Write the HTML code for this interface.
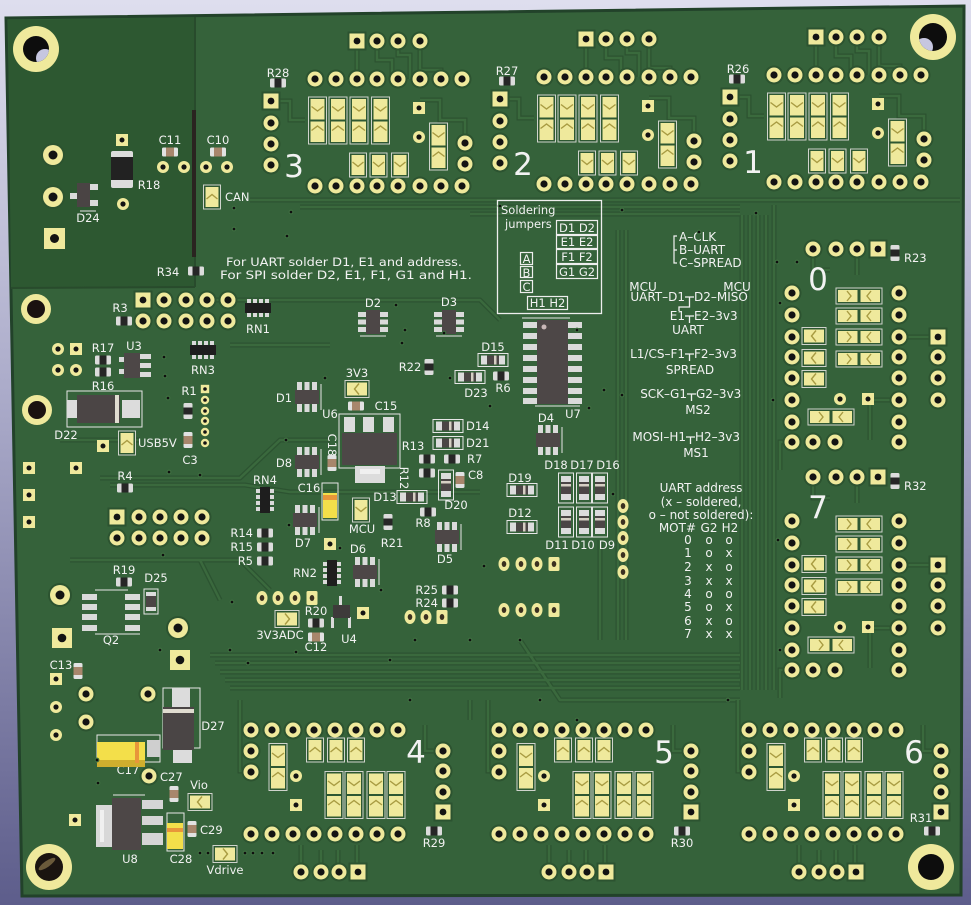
<!DOCTYPE html>
<html><head><meta charset="utf-8">
<style>
html,body{margin:0;padding:0;background:#b0b0cc}
svg{display:block}
text{font-family:"DejaVu Sans","Liberation Sans",sans-serif;fill:#f2f2f2}
.l{font-size:11.5px;text-anchor:middle}
.ls{font-size:11.5px}
.le{font-size:11.5px;text-anchor:end}
.n{font-size:31px;text-anchor:middle}
.t{font-size:12px}
.tm{font-size:12px;text-anchor:middle}
.te{font-size:12px;text-anchor:end}
</style></head><body>
<svg width="971" height="905" viewBox="0 0 971 905" xmlns="http://www.w3.org/2000/svg">
<defs>
<linearGradient id="bg" x1="0" y1="0" x2="0" y2="1">
<stop offset="0" stop-color="#dedeee"/><stop offset="0.45" stop-color="#a9a9c8"/><stop offset="1" stop-color="#5d5d8b"/>
</linearGradient>
<g id="p"><circle r="9.5" fill="#2c5330"/><circle r="7.5" fill="#efe99c"/><circle r="3.6" fill="#131313"/></g>
<g id="ps"><rect x="-9.5" y="-9.5" width="19" height="19" fill="#2c5330"/><rect x="-7.5" y="-7.5" width="15" height="15" fill="#efe99c"/><circle r="3.4" fill="#131313"/></g>
<g id="pb"><circle r="12" fill="#2c5330"/><circle r="10" fill="#efe99c"/><circle r="4.5" fill="#131313"/></g>
<g id="pbs"><rect x="-10" y="-10" width="20" height="20" fill="#efe99c"/><circle r="4.3" fill="#131313"/></g>
<g id="pm"><circle r="6" fill="#efe99c"/><circle r="2.6" fill="#131313"/></g>
<g id="pms"><rect x="-6" y="-6" width="12" height="12" fill="#efe99c"/><circle r="2.5" fill="#131313"/></g>
<g id="po"><ellipse rx="5.5" ry="7" fill="#efe99c"/><ellipse rx="2.3" ry="3" fill="#3a3020"/></g>
<g id="pos"><rect x="-5.5" y="-7" width="11" height="14" rx="1.5" fill="#efe99c"/><ellipse rx="2.3" ry="3" fill="#3a3020"/></g>
<g id="ps4"><circle r="4.2" fill="#efe99c"/><circle r="1.8" fill="#131313"/></g>
<g id="ps4s"><rect x="-4.2" y="-4.2" width="8.4" height="8.4" fill="#efe99c"/><circle r="1.8" fill="#131313"/></g>
<g id="v"><circle r="2.4" fill="#3f6f41"/><circle r="1.3" fill="#0e0e0e"/></g>
<g id="jv"><rect x="-9" y="-23.5" width="18" height="47" fill="#2e5832" stroke="#cfd3cc" stroke-width="1"/>
<rect x="-7" y="-21.5" width="14" height="20.5" fill="#efe99c"/><rect x="-7" y="1" width="14" height="20.5" fill="#efe99c"/>
<polyline points="-6,-14 0,-9.5 6,-14" fill="none" stroke="#a89b42" stroke-width="1.4"/>
<polyline points="-6,10 0,5.5 6,10" fill="none" stroke="#a89b42" stroke-width="1.4"/></g>
<g id="js"><rect x="-8.5" y="-12" width="17" height="24" fill="#2e5832" stroke="#cfd3cc"/><rect x="-6.5" y="-10" width="13" height="20" fill="#efe99c"/>
<polyline points="-5.5,-3 0,1.5 5.5,-3" fill="none" stroke="#a89b42" stroke-width="1.4"/></g>
<g id="jsu"><rect x="-8.5" y="-12" width="17" height="24" fill="#2e5832" stroke="#cfd3cc"/><rect x="-6.5" y="-10" width="13" height="20" fill="#efe99c"/>
<polyline points="-5.5,2 0,-2.5 5.5,2" fill="none" stroke="#a89b42" stroke-width="1.4"/></g>
<g id="jh"><rect x="-23" y="-8" width="46" height="16" fill="#2e5832" stroke="#cfd3cc"/>
<rect x="-21" y="-6" width="19.5" height="12" fill="#efe99c"/><rect x="1.5" y="-6" width="19.5" height="12" fill="#efe99c"/>
<polyline points="-12,-5 -8,0 -12,5" fill="none" stroke="#a89b42" stroke-width="1.4"/>
<polyline points="12,-5 8,0 12,5" fill="none" stroke="#a89b42" stroke-width="1.4"/></g>
<g id="jl"><rect x="-12" y="-8.5" width="24" height="17" fill="#2e5832" stroke="#cfd3cc"/><rect x="-10" y="-6.5" width="20" height="13" fill="#efe99c"/>
<polyline points="2,-5.5 -2.5,0 2,5.5" fill="none" stroke="#a89b42" stroke-width="1.4"/></g>
<g id="jr"><rect x="-12" y="-8.5" width="24" height="17" fill="#2e5832" stroke="#cfd3cc"/><rect x="-10" y="-6.5" width="20" height="13" fill="#efe99c"/>
<polyline points="-2,-5.5 2.5,0 -2,5.5" fill="none" stroke="#a89b42" stroke-width="1.4"/></g>
<g id="rh"><rect x="-8" y="-4.5" width="16" height="9" rx="1.5" fill="#dcdcdc"/><rect x="-3.5" y="-4.5" width="7" height="9" fill="#262626"/></g>
<g id="rv"><rect x="-4.5" y="-8" width="9" height="16" rx="1.5" fill="#dcdcdc"/><rect x="-4.5" y="-3.5" width="9" height="7" fill="#262626"/></g>
<g id="ch"><rect x="-8" y="-4.5" width="16" height="9" rx="1.5" fill="#e2e2e2"/><rect x="-4" y="-4.5" width="8" height="9" fill="#a8866c"/></g>
<g id="cv"><rect x="-4.5" y="-8" width="9" height="16" rx="1.5" fill="#e2e2e2"/><rect x="-4.5" y="-4" width="9" height="8" fill="#a8866c"/></g>
<g id="dh"><rect x="-15" y="-6.5" width="30" height="13" fill="none" stroke="#e6e6e6"/><rect x="-12" y="-4.5" width="24" height="9" fill="#dcdcdc"/><rect x="-6" y="-4.5" width="12" height="9" fill="#4b4545"/><rect x="1" y="-4.5" width="2.5" height="9" fill="#d6cfc4"/></g>
<g id="dv"><rect x="-7.5" y="-15" width="15" height="30" fill="none" stroke="#e6e6e6"/><rect x="-5" y="-12" width="10" height="24" fill="#dcdcdc"/><rect x="-5" y="-6" width="10" height="12" fill="#4b4545"/><rect x="-5" y="-4" width="10" height="2.5" fill="#d6cfc4"/></g>
<g id="s6"><rect x="-10" y="-15" width="5" height="8" fill="#dadada"/><rect x="-2.5" y="-15" width="5" height="8" fill="#dadada"/><rect x="5" y="-15" width="5" height="8" fill="#dadada"/>
<rect x="-10" y="7" width="5" height="8" fill="#dadada"/><rect x="-2.5" y="7" width="5" height="8" fill="#dadada"/><rect x="5" y="7" width="5" height="8" fill="#dadada"/>
<rect x="-12" y="-7" width="24" height="14" fill="#4d4747"/><line x1="14" y1="-13" x2="14" y2="13" stroke="#e6e6e6"/></g>
<g id="s6r"><rect x="-15" y="-10" width="8" height="5" fill="#dadada"/><rect x="-15" y="-2.5" width="8" height="5" fill="#dadada"/><rect x="-15" y="5" width="8" height="5" fill="#dadada"/>
<rect x="7" y="-10" width="8" height="5" fill="#dadada"/><rect x="7" y="-2.5" width="8" height="5" fill="#dadada"/><rect x="7" y="5" width="8" height="5" fill="#dadada"/>
<rect x="-7" y="-12" width="14" height="24" fill="#4d4747"/><line x1="-13" y1="14" x2="13" y2="14" stroke="#e6e6e6"/></g>
<g id="rn"><rect x="-11" y="-9" width="4" height="5" fill="#dadada"/><rect x="-5" y="-9" width="4" height="5" fill="#dadada"/><rect x="1" y="-9" width="4" height="5" fill="#dadada"/><rect x="7" y="-9" width="4" height="5" fill="#dadada"/>
<rect x="-11" y="4" width="4" height="5" fill="#dadada"/><rect x="-5" y="4" width="4" height="5" fill="#dadada"/><rect x="1" y="4" width="4" height="5" fill="#dadada"/><rect x="7" y="4" width="4" height="5" fill="#dadada"/>
<rect x="-13" y="-5" width="26" height="10" fill="#1e1e1e"/></g>
<g id="rnv"><rect x="-9" y="-11" width="5" height="4" fill="#dadada"/><rect x="-9" y="-5" width="5" height="4" fill="#dadada"/><rect x="-9" y="1" width="5" height="4" fill="#dadada"/><rect x="-9" y="7" width="5" height="4" fill="#dadada"/>
<rect x="4" y="-11" width="5" height="4" fill="#dadada"/><rect x="4" y="-5" width="5" height="4" fill="#dadada"/><rect x="4" y="1" width="5" height="4" fill="#dadada"/><rect x="4" y="7" width="5" height="4" fill="#dadada"/>
<rect x="-5" y="-13" width="10" height="26" fill="#1e1e1e"/></g>

<g id="tb">
<g fill="none" stroke="#2c5230" stroke-width="5"><path d="M357 41V79M377 41V60H392V79M398 41V55H410V79M420 41V70H441V79"/><path d="M271 101H290V120H305M465 143V120H440V100H420"/></g>
<g fill="none" stroke="#3a6a3d" stroke-width="2.5"><path d="M357 41V79M377 41V60H392V79M398 41V55H410V79M420 41V70H441V79"/><path d="M271 101H290V120H305M465 143V120H440V100H420"/></g>
<use href="#ps" x="357" y="41"/><use href="#p" x="377" y="41"/><use href="#p" x="398" y="41"/><use href="#p" x="420" y="41"/>
<use href="#p" x="315" y="79"/><use href="#p" x="336" y="79"/><use href="#p" x="357" y="79"/><use href="#p" x="377" y="79"/><use href="#p" x="398" y="79"/><use href="#p" x="420" y="79"/><use href="#p" x="441" y="79"/><use href="#p" x="462" y="79"/>
<use href="#p" x="315" y="186"/><use href="#p" x="336" y="186"/><use href="#p" x="357" y="186"/><use href="#p" x="377" y="186"/><use href="#p" x="398" y="186"/><use href="#p" x="420" y="186"/><use href="#p" x="441" y="186"/><use href="#p" x="462" y="186"/>
<use href="#ps" x="271" y="101"/><use href="#p" x="271" y="123"/><use href="#p" x="271" y="144"/><use href="#p" x="271" y="165"/>
<use href="#p" x="465" y="143"/><use href="#p" x="465" y="164"/>
<use href="#pms" x="419" y="108"/><use href="#pm" x="419" y="137"/>
<use href="#jv" x="317.5" y="120.5"/><use href="#jv" x="338" y="120.5"/><use href="#jv" x="359" y="120.5"/><use href="#jv" x="380.5" y="120.5"/>
<use href="#js" x="358" y="165"/><use href="#js" x="378.5" y="165"/><use href="#js" x="400" y="165"/>
<use href="#jv" x="438.5" y="146.5"/>
<use href="#rh" x="278" y="83"/>
</g>

<g id="rb">
<g fill="none" stroke="#2c5230" stroke-width="5"><path d="M813 249V270H830M857 249V275M899 337H938M899 400H870V440M792 442H780V470"/></g>
<g fill="none" stroke="#3a6a3d" stroke-width="2.5"><path d="M813 249V270H830M857 249V275M899 337H938M899 400H870V440M792 442H780V470"/></g>
<use href="#p" x="813" y="249"/><use href="#p" x="836" y="249"/><use href="#p" x="857" y="249"/><use href="#ps" x="878" y="249"/>
<use href="#rv" x="895" y="253"/>
<use href="#p" x="792" y="293"/><use href="#p" x="792" y="315"/><use href="#p" x="792" y="337"/><use href="#p" x="792" y="357"/><use href="#p" x="792" y="378"/><use href="#p" x="792" y="400"/><use href="#p" x="792" y="422"/><use href="#p" x="792" y="442"/>
<use href="#p" x="813" y="442"/><use href="#p" x="835" y="442"/>
<use href="#p" x="899" y="293"/><use href="#p" x="899" y="315"/><use href="#p" x="899" y="337"/><use href="#p" x="899" y="357"/><use href="#p" x="899" y="378"/><use href="#p" x="899" y="400"/><use href="#p" x="899" y="422"/><use href="#p" x="899" y="442"/>
<use href="#ps" x="938" y="337"/><use href="#p" x="938" y="357"/><use href="#p" x="938" y="378"/><use href="#p" x="938" y="400"/>
<use href="#jh" x="859" y="296"/><use href="#jh" x="859" y="316"/><use href="#jh" x="859" y="337"/><use href="#jh" x="859" y="359"/>
<use href="#jl" x="814" y="336"/><use href="#jl" x="814" y="358"/><use href="#jl" x="814" y="379"/>
<use href="#pm" x="840" y="399"/><use href="#pms" x="868" y="399"/>
<use href="#jh" x="831" y="417"/>
</g>

<g id="bb">
<g fill="none" stroke="#2c5230" stroke-width="5"><path d="M301 872V845M321 872V850M338 872V850M357 872V845M443 751H425V725M251 771H240V700"/></g>
<g fill="none" stroke="#3a6a3d" stroke-width="2.5"><path d="M301 872V845M321 872V850M338 872V850M357 872V845M443 751H425V725M251 771H240V700"/></g>
<use href="#p" x="251" y="730"/><use href="#p" x="272" y="730"/><use href="#p" x="293" y="730"/><use href="#p" x="314" y="730"/><use href="#p" x="335" y="730"/><use href="#p" x="356" y="730"/><use href="#p" x="377" y="730"/><use href="#p" x="398" y="730"/>
<use href="#p" x="251" y="751"/><use href="#p" x="251" y="772"/>
<use href="#jv" x="278" y="767"/>
<use href="#pm" x="296" y="776"/>
<use href="#jsu" x="315" y="750"/><use href="#jsu" x="336" y="750"/><use href="#jsu" x="356" y="750"/>
<use href="#jv" x="334" y="795"/><use href="#jv" x="354" y="795"/><use href="#jv" x="376" y="795"/><use href="#jv" x="396" y="795"/>
<use href="#pms" x="296" y="805"/>
<use href="#p" x="443" y="751"/><use href="#p" x="443" y="771"/><use href="#p" x="443" y="792"/><use href="#ps" x="443" y="812"/>
<use href="#p" x="251" y="834"/><use href="#p" x="272" y="834"/><use href="#p" x="293" y="834"/><use href="#p" x="314" y="834"/><use href="#p" x="335" y="834"/><use href="#p" x="356" y="834"/><use href="#p" x="377" y="834"/><use href="#p" x="398" y="834"/>
<use href="#rh" x="434" y="831"/>
<use href="#p" x="301" y="872"/><use href="#p" x="321" y="872"/><use href="#p" x="339" y="872"/><use href="#ps" x="358" y="872"/>
</g>
<clipPath id="h1"><circle cx="36" cy="49" r="13"/></clipPath>
<clipPath id="h2"><circle cx="933" cy="37" r="14"/></clipPath>
</defs>

<rect width="971" height="905" fill="url(#bg)"/>
<polygon points="6,18 964,6 961,895 22,896" fill="#35623a" stroke="#22422a" stroke-width="3"/>
<polygon points="8,20 195,17 195,287 11,288" fill="#2d5831"/>
<line x1="11" y1="288" x2="195" y2="287" stroke="#284b2c" stroke-width="2"/>
<line x1="195" y1="17" x2="195" y2="287" stroke="#284b2c" stroke-width="2"/>

<g fill="none" stroke="#2c5331" stroke-width="5" stroke-linejoin="round">
<path d="M742 215V690M750 215V690M758 215V690M766 215V690M774 205V690"/>
<path d="M250 200H960M300 207H740M470 214H740"/>
<path d="M210 655H740M215 663H740M220 672H740M225 680H740M230 688H740"/>
<path d="M100 478H240L280 440H330M110 485H245L290 492H480"/>
<path d="M618 230V640M626 230V640"/>
<path d="M215 300H480L500 320M230 345H330M150 560H240L270 590"/>
<path d="M470 700V720M520 640L560 700H740M600 540V640"/>
<path d="M60 440H140M70 560H200L220 600"/>
</g>
<g fill="none" stroke="#3a693d" stroke-width="2.5" stroke-linejoin="round">
<path d="M742 215V690M750 215V690M758 215V690M766 215V690M774 205V690"/>
<path d="M250 200H960M300 207H740M470 214H740"/>
<path d="M210 655H740M215 663H740M220 672H740M225 680H740M230 688H740"/>
<path d="M100 478H240L280 440H330M110 485H245L290 492H480"/>
<path d="M618 230V640M626 230V640"/>
<path d="M215 300H480L500 320M230 345H330M150 560H240L270 590"/>
<path d="M470 700V720M520 640L560 700H740M600 540V640"/>
<path d="M60 440H140M70 560H200L220 600"/>
</g>

<circle cx="36" cy="49" r="23" fill="#efe99c"/><circle cx="36" cy="49" r="13" fill="#0d0d0d"/><circle cx="45" cy="58" r="9" fill="#c6c6e0" clip-path="url(#h1)"/>
<circle cx="933" cy="37" r="23" fill="#efe99c"/><circle cx="933" cy="37" r="14" fill="#0d0d0d"/><circle cx="924" cy="47" r="9" fill="#c6c6e0" clip-path="url(#h2)"/>
<circle cx="49" cy="867" r="23" fill="#efe99c"/><circle cx="49" cy="867" r="14" fill="#1a1410"/><ellipse cx="47" cy="864" rx="10" ry="3" fill="#6a5a3a" transform="rotate(-35 47 864)"/>
<circle cx="931" cy="867" r="23" fill="#efe99c"/><circle cx="931" cy="867" r="13" fill="#0d0d0d"/>
<circle cx="36" cy="309" r="15" fill="#efe99c"/><circle cx="36" cy="309" r="9" fill="#1a1210"/>
<circle cx="37" cy="410" r="15" fill="#efe99c"/><circle cx="37" cy="410" r="9" fill="#1a1210"/>

<use href="#tb"/><use href="#tb" x="229" y="-2"/><use href="#tb" x="459" y="-4"/>
<use href="#rb"/><use href="#rb" y="228"/>
<use href="#bb"/><use href="#bb" x="248"/><use href="#bb" x="498"/>

<text class="n" x="294" y="177">3</text><text class="n" x="523" y="175">2</text><text class="n" x="753" y="173">1</text>
<text class="l" x="278" y="77">R28</text><text class="l" x="507" y="75">R27</text><text class="l" x="738" y="73">R26</text>
<text class="n" x="818" y="290">0</text><text class="n" x="818" y="518">7</text>
<text class="ls" x="904" y="262">R23</text><text class="ls" x="904" y="490">R32</text>
<text class="n" x="416" y="763">4</text><text class="n" x="664" y="763">5</text><text class="n" x="914" y="763">6</text>
<text class="l" x="434" y="847">R29</text><text class="l" x="682" y="847">R30</text><text class="l" x="921" y="822">R31</text>

<use href="#pb" x="53" y="155"/><use href="#pb" x="53" y="197"/>
<rect x="44" y="228" width="21" height="21" fill="#efe99c"/><circle cx="54.5" cy="238.5" r="4.5" fill="#131313"/>
<rect x="77" y="183" width="13" height="24" fill="#4a4444"/><rect x="90" y="184" width="8" height="6" fill="#dadada"/><rect x="90" y="200" width="8" height="6" fill="#dadada"/><rect x="70" y="193" width="7" height="6" fill="#dadada"/>
<line x1="80" y1="211" x2="96" y2="211" stroke="#e6e6e6"/>
<text class="l" x="88" y="222">D24</text>
<use href="#pms" x="122" y="140"/>
<rect x="111" y="151" width="22" height="37" rx="2" fill="#dcdcdc"/><rect x="111" y="157" width="22" height="23" fill="#222"/>
<text class="l" x="149" y="189">R18</text>
<use href="#pm" x="123" y="204"/>
<use href="#ch" x="170" y="152"/><text class="l" x="170" y="144">C11</text>
<use href="#ch" x="218" y="152"/><text class="l" x="218" y="144">C10</text>
<use href="#pm" x="163" y="167"/><use href="#pm" x="184" y="167"/><use href="#pm" x="206" y="167"/><use href="#pm" x="227" y="167"/>
<rect x="192" y="110" width="4" height="147" fill="#2a2420"/>
<use href="#jsu" x="212" y="197"/>
<text class="ls" x="225" y="201">CAN</text>
<use href="#rh" x="196" y="271"/><text class="l" x="168" y="276">R34</text>
<text class="ls" x="226" y="266" textLength="236" lengthAdjust="spacingAndGlyphs">For UART solder D1, E1 and address.</text>
<text class="ls" x="220" y="279" textLength="252" lengthAdjust="spacingAndGlyphs">For SPI solder D2, E1, F1, G1 and H1.</text>

<use href="#ps" x="143" y="300"/><use href="#p" x="164" y="300"/><use href="#p" x="186" y="300"/><use href="#p" x="207" y="300"/><use href="#p" x="228" y="300"/>
<use href="#p" x="143" y="321"/><use href="#p" x="164" y="321"/><use href="#p" x="186" y="321"/><use href="#p" x="207" y="321"/><use href="#p" x="228" y="321"/>
<use href="#rh" x="124" y="321"/><text class="l" x="120" y="312">R3</text>
<use href="#rn" x="258" y="308"/><text class="l" x="258" y="333">RN1</text>
<use href="#pm" x="58" y="349"/><use href="#pms" x="76" y="349"/><use href="#pm" x="58" y="370"/><use href="#pm" x="76" y="370"/>
<use href="#rh" x="103" y="360"/><use href="#rh" x="103" y="372"/><text class="l" x="103" y="352">R17</text>
<rect x="140" y="354" width="11" height="5" fill="#dadada"/><rect x="140" y="363" width="11" height="5" fill="#dadada"/><rect x="140" y="372" width="11" height="5" fill="#dadada"/>
<rect x="119" y="357" width="6" height="5" fill="#dadada"/><rect x="119" y="369" width="6" height="5" fill="#dadada"/>
<rect x="124" y="353" width="16" height="25" fill="#4d4747"/>
<text class="l" x="134" y="350">U3</text>
<use href="#rn" x="203" y="350"/><text class="l" x="203" y="374">RN3</text>
<text class="l" x="103" y="390">R16</text>
<rect x="67" y="391" width="75" height="36" fill="none" stroke="#e6e6e6"/>
<rect x="67" y="400" width="12" height="18" fill="#dcdcdc"/><rect x="122" y="400" width="18" height="18" fill="#dcdcdc"/>
<rect x="77" y="395" width="43" height="28" fill="#4b4545"/><rect x="115" y="395" width="4" height="28" fill="#e0dcd0"/>
<text class="l" x="66" y="439">D22</text>
<use href="#rv" x="188" y="411"/><text class="l" x="189" y="395">R1</text>
<use href="#cv" x="188" y="440"/><text class="l" x="190" y="464">C3</text>
<use href="#ps4s" x="205" y="389"/><use href="#ps4" x="205" y="400"/><use href="#ps4" x="205" y="411"/><use href="#ps4" x="205" y="421"/><use href="#ps4" x="205" y="432"/><use href="#ps4" x="205" y="443"/>
<use href="#jsu" x="127" y="443"/><text class="ls" x="138" y="447">USB5V</text>
<use href="#pms" x="103" y="446"/>
<use href="#pms" x="29" y="468"/><use href="#pms" x="29" y="495"/><use href="#pms" x="29" y="522"/><use href="#pms" x="76" y="468"/>
<use href="#rh" x="125" y="488"/><text class="l" x="125" y="480">R4</text>
<use href="#ps" x="117" y="517"/><use href="#p" x="139" y="517"/><use href="#p" x="160" y="517"/><use href="#p" x="181" y="517"/><use href="#p" x="202" y="517"/>
<use href="#p" x="117" y="538"/><use href="#p" x="139" y="538"/><use href="#p" x="160" y="538"/><use href="#p" x="181" y="538"/><use href="#p" x="202" y="538"/>
<use href="#rnv" x="265" y="500"/><text class="l" x="265" y="484">RN4</text>
<use href="#rh" x="265" y="533"/><use href="#rh" x="265" y="547"/><use href="#rh" x="265" y="561"/>
<text class="le" x="253" y="537">R14</text><text class="le" x="253" y="551">R15</text><text class="le" x="253" y="565">R5</text>
<use href="#rh" x="124" y="582"/><text class="l" x="124" y="574">R19</text>
<rect x="144" y="589" width="14" height="25" fill="none" stroke="#e6e6e6"/><rect x="146" y="592" width="10" height="19" fill="#dcdcdc"/><rect x="146" y="596" width="10" height="11" fill="#4b4545"/>
<text class="l" x="156" y="582">D25</text>
<use href="#pb" x="60" y="595"/>
<rect x="82" y="594" width="15" height="6" fill="#dadada"/><rect x="82" y="604" width="15" height="6" fill="#dadada"/><rect x="82" y="614" width="15" height="6" fill="#dadada"/><rect x="82" y="625" width="15" height="6" fill="#dadada"/>
<rect x="125" y="594" width="15" height="6" fill="#dadada"/><rect x="125" y="604" width="15" height="6" fill="#dadada"/><rect x="125" y="614" width="15" height="6" fill="#dadada"/><rect x="125" y="625" width="15" height="6" fill="#dadada"/>
<line x1="95" y1="590" x2="128" y2="590" stroke="#e6e6e6"/><line x1="95" y1="634" x2="140" y2="634" stroke="#e6e6e6"/>
<text class="l" x="111" y="644">Q2</text>
<use href="#pbs" x="62" y="638"/>
<use href="#pb" x="178" y="628"/><use href="#pbs" x="180" y="660"/>

<text class="l" x="61" y="669">C13</text><use href="#cv" x="78" y="671"/>
<use href="#pms" x="56" y="679"/><use href="#pm" x="56" y="707"/><use href="#pm" x="56" y="735"/>
<use href="#p" x="86" y="694"/><use href="#p" x="86" y="722"/><use href="#p" x="148" y="694"/>
<rect x="163" y="688" width="37" height="60" fill="none" stroke="#e6e6e6"/>
<rect x="172" y="688" width="18" height="19" fill="#dcdcdc"/><rect x="173" y="750" width="19" height="13" fill="#dcdcdc"/>
<rect x="163" y="707" width="31" height="43" fill="#4a4545"/><rect x="163" y="709" width="31" height="4" fill="#e0dcd0"/>
<text class="l" x="213" y="730">D27</text>
<text class="l" x="128" y="774">C17</text>
<rect x="97" y="735" width="63" height="27" fill="none" stroke="#e6e6e6"/>
<rect x="147" y="740" width="13" height="17" fill="#cfcfcf"/>
<rect x="97" y="742" width="48" height="25" fill="#f3df4a"/><rect x="97" y="760" width="48" height="7" fill="#cfae2e"/><rect x="135" y="742" width="4" height="21" fill="#e8963a"/>
<use href="#p" x="149" y="776"/><text class="ls" x="160" y="781">C27</text>
<use href="#cv" x="174" y="794"/>
<line x1="113" y1="795" x2="145" y2="795" stroke="#e6e6e6"/>
<rect x="96" y="805" width="16" height="42" fill="#d8d8d8"/><rect x="100" y="810" width="4" height="32" fill="#f0f0f0"/>
<rect x="142" y="800" width="21" height="9" fill="#d5d5d5"/><rect x="142" y="816" width="21" height="9" fill="#d5d5d5"/><rect x="142" y="833" width="21" height="12" fill="#d5d5d5"/>
<rect x="112" y="798" width="29" height="52" fill="#4d4747"/>
<text class="l" x="130" y="863">U8</text>
<use href="#pms" x="75" y="820"/>
<rect x="167" y="813" width="17" height="38" fill="none" stroke="#e6e6e6"/>
<rect x="167" y="823" width="16" height="26" fill="#f3df4a"/><rect x="167" y="828" width="16" height="4" fill="#e8963a"/>
<text class="l" x="181" y="863">C28</text>
<use href="#cv" x="192" y="829"/><text class="ls" x="200" y="834">C29</text>
<use href="#jl" x="200" y="802"/><text class="l" x="199" y="789">Vio</text>
<use href="#jr" x="225" y="854"/><text class="l" x="225" y="874">Vdrive</text>
<use href="#v" x="200" y="853"/><use href="#v" x="208" y="853"/><use href="#v" x="245" y="853"/><use href="#v" x="253" y="853"/><use href="#v" x="262" y="853"/><use href="#v" x="273" y="853"/>

<use href="#s6r" x="373" y="322"/><text class="l" x="373" y="307">D2</text>
<use href="#s6r" x="449" y="322"/><text class="l" x="449" y="306">D3</text>
<use href="#dh" x="493" y="360"/><text class="l" x="493" y="351">D15</text>
<use href="#dh" x="470" y="377"/><text class="l" x="476" y="397">D23</text>
<use href="#rh" x="501" y="376"/><text class="l" x="503" y="392">R6</text>
<use href="#rv" x="429" y="367"/><text class="l" x="410" y="371">R22</text>
<use href="#s6" x="307" y="397"/><text class="l" x="284" y="402">D1</text>
<use href="#jl" x="357" y="389"/><text class="l" x="357" y="377">3V3</text>
<use href="#ch" x="356" y="406"/><text class="l" x="386" y="410">C15</text>
<rect x="339" y="414" width="61" height="54" fill="none" stroke="#e6e6e6"/>
<rect x="344" y="417" width="11" height="15" fill="#dcdcdc"/><rect x="363" y="417" width="11" height="15" fill="#dcdcdc"/><rect x="383" y="417" width="11" height="15" fill="#dcdcdc"/>
<rect x="342" y="433" width="55" height="32" fill="#4d4747"/>
<rect x="355" y="466" width="30" height="17" fill="#dcdcdc"/><rect x="360" y="469" width="20" height="5" fill="#f0f0f0"/>
<text class="l" x="330" y="418">U6</text>
<text class="l" transform="translate(328 445) rotate(90)">C18</text>
<use href="#cv" x="332" y="463"/>
<text class="l" x="413" y="450">R13</text>
<use href="#rh" x="427" y="459"/><use href="#rh" x="452" y="459"/><text class="ls" x="467" y="463">R7</text>
<use href="#dh" x="448" y="426"/><text class="ls" x="466" y="430">D14</text>
<use href="#dh" x="448" y="443"/><text class="ls" x="466" y="447">D21</text>
<use href="#rh" x="427" y="473"/><text class="l" transform="translate(400 478) rotate(90)">R12</text>
<use href="#cv" x="460" y="480"/><text class="ls" x="468" y="479">C8</text>
<use href="#dv" x="446" y="485"/><text class="l" x="456" y="509">D20</text>
<use href="#dh" x="412" y="497"/><text class="l" x="385" y="501">D13</text>
<use href="#rh" x="428" y="512"/><text class="l" x="423" y="527">R8</text>
<use href="#s6" x="447" y="537"/><text class="l" x="445" y="563">D5</text>
<use href="#s6" x="307" y="462"/><text class="l" x="284" y="467">D8</text>
<rect x="322" y="483" width="16" height="37" fill="none" stroke="#e6e6e6"/>
<rect x="323" y="493" width="14" height="25" fill="#f3df4a"/><rect x="323" y="495" width="14" height="5" fill="#e8963a"/>
<text class="l" x="309" y="492">C16</text>
<use href="#js" x="361" y="510"/><text class="l" x="362" y="533">MCU</text>
<use href="#rv" x="388" y="522"/><text class="l" x="392" y="547">R21</text>
<use href="#s6" x="305" y="520"/><text class="l" x="303" y="547">D7</text>
<use href="#pms" x="330" y="544"/>
<use href="#s6" x="365" y="572"/><text class="l" x="358" y="553">D6</text>
<use href="#rnv" x="332" y="573"/><text class="l" x="305" y="577">RN2</text>
<use href="#po" x="262" y="598"/><use href="#po" x="278" y="598"/><use href="#po" x="295" y="598"/><use href="#pos" x="312" y="598"/>
<use href="#rh" x="316" y="623"/><text class="l" x="316" y="615">R20</text>
<use href="#jr" x="287" y="619"/><text class="l" x="280" y="639">3V3ADC</text>
<use href="#ch" x="316" y="637"/><text class="l" x="316" y="651">C12</text>
<rect x="339" y="596" width="3" height="10" fill="#dadada"/><rect x="331" y="617" width="3" height="11" fill="#dadada"/><rect x="348" y="617" width="3" height="11" fill="#dadada"/>
<rect x="333" y="605" width="17" height="13" fill="#3e3a3a"/>
<text class="l" x="349" y="643">U4</text>
<use href="#pms" x="363" y="613"/>
<use href="#rh" x="450" y="590"/><use href="#rh" x="450" y="603"/>
<text class="le" x="438" y="594">R25</text><text class="le" x="438" y="607">R24</text>
<use href="#po" x="410" y="617"/><use href="#po" x="426" y="617"/><use href="#pos" x="442" y="617"/>

<rect x="497.5" y="200.5" width="104" height="113" fill="none" stroke="#eeeeee" stroke-width="1.3"/>
<text class="ls" x="501" y="214">Soldering</text>
<text class="ls" x="505" y="228">jumpers</text>
<g fill="none" stroke="#eeeeee" stroke-width="1.2">
<rect x="556.5" y="220.5" width="41" height="14"/><rect x="556.5" y="235.5" width="41" height="13"/><rect x="556.5" y="249.5" width="41" height="14"/><rect x="556.5" y="264.5" width="41" height="14"/>
<rect x="520.5" y="252.5" width="12" height="12"/><rect x="520.5" y="266.5" width="12" height="11"/><rect x="520.5" y="280.5" width="12" height="12"/>
<rect x="527.5" y="296.5" width="40" height="13"/>
</g>
<text class="l" x="577" y="232">D1 D2</text><text class="l" x="577" y="246">E1 E2</text><text class="l" x="577" y="261">F1 F2</text><text class="l" x="577" y="276">G1 G2</text>
<text class="l" x="526.5" y="263">A</text><text class="l" x="526.5" y="277">B</text><text class="l" x="526.5" y="291">C</text>
<text class="l" x="547.5" y="307">H1 H2</text>

<g fill="#dadada">
<rect x="523" y="322" width="14" height="6"/><rect x="523" y="333" width="14" height="6"/><rect x="523" y="344" width="14" height="6"/><rect x="523" y="355" width="14" height="6"/><rect x="523" y="366" width="14" height="6"/><rect x="523" y="377" width="14" height="6"/><rect x="523" y="388" width="14" height="6"/><rect x="523" y="398" width="14" height="6"/>
<rect x="568" y="322" width="14" height="6"/><rect x="568" y="333" width="14" height="6"/><rect x="568" y="344" width="14" height="6"/><rect x="568" y="355" width="14" height="6"/><rect x="568" y="366" width="14" height="6"/><rect x="568" y="377" width="14" height="6"/><rect x="568" y="388" width="14" height="6"/><rect x="568" y="398" width="14" height="6"/>
</g>
<rect x="537" y="320" width="31" height="84" fill="#4d4747"/><circle cx="544" cy="327" r="2.5" fill="#c8b8b8"/>
<line x1="522" y1="318" x2="570" y2="318" stroke="#e6e6e6"/><line x1="535" y1="406" x2="580" y2="406" stroke="#e6e6e6"/>
<text class="l" x="573" y="418">U7</text>

<path d="M677 236H674V263H677M674 250H677" fill="none" stroke="#f2f2f2" stroke-width="1.2"/>
<text class="t" x="679" y="241">A–CLK</text><text class="t" x="679" y="254">B–UART</text><text class="t" x="679" y="267">C–SPREAD</text>
<text class="tm" x="643" y="291">MCU</text><text class="tm" x="737" y="291">MCU</text>
<g fill="none" stroke="#f2f2f2" stroke-width="1.3">
<path d="M685 297H694M689.5 297V307H679V311"/>
<path d="M685 316H694M689.5 316V323"/>
<path d="M685 354H694M689.5 354V361"/>
<path d="M687 394H696M691.5 394V401"/>
<path d="M686 437H695M690.5 437V444"/>
</g>
<text class="te" x="685" y="301">UART–D1</text><text class="t" x="694" y="301">D2–MISO</text>
<text class="te" x="685" y="320">E1</text><text class="t" x="694" y="320">E2–3v3</text>
<text class="tm" x="688" y="334">UART</text>
<text class="te" x="685" y="358">L1/CS–F1</text><text class="t" x="694" y="358">F2–3v3</text>
<text class="tm" x="690" y="374">SPREAD</text>
<text class="te" x="687" y="398">SCK–G1</text><text class="t" x="696" y="398">G2–3v3</text>
<text class="tm" x="698" y="414">MS2</text>
<text class="te" x="686" y="441">MOSI–H1</text><text class="t" x="695" y="441">H2–3v3</text>
<text class="tm" x="696" y="457">MS1</text>
<text class="tm" x="701" y="492">UART address</text>
<text class="tm" x="701" y="506">(x – soldered,</text>
<text class="tm" x="701" y="519">o – not soldered):</text>
<text class="te" x="696" y="532">MOT#</text><text class="tm" x="709" y="532">G2</text><text class="tm" x="730" y="532">H2</text>
<text class="tm" x="688" y="544">0</text><text class="tm" x="709" y="544">o</text><text class="tm" x="729" y="544">o</text>
<text class="tm" x="688" y="557">1</text><text class="tm" x="709" y="557">o</text><text class="tm" x="729" y="557">x</text>
<text class="tm" x="688" y="571">2</text><text class="tm" x="709" y="571">x</text><text class="tm" x="729" y="571">o</text>
<text class="tm" x="688" y="585">3</text><text class="tm" x="709" y="585">x</text><text class="tm" x="729" y="585">x</text>
<text class="tm" x="688" y="598">4</text><text class="tm" x="709" y="598">o</text><text class="tm" x="729" y="598">o</text>
<text class="tm" x="688" y="611">5</text><text class="tm" x="709" y="611">o</text><text class="tm" x="729" y="611">x</text>
<text class="tm" x="688" y="625">6</text><text class="tm" x="709" y="625">x</text><text class="tm" x="729" y="625">o</text>
<text class="tm" x="688" y="638">7</text><text class="tm" x="709" y="638">x</text><text class="tm" x="729" y="638">x</text>

<use href="#s6" x="548" y="440"/><text class="l" x="546" y="422">D4</text>
<text class="l" x="556" y="469">D18</text><text class="l" x="582" y="469">D17</text><text class="l" x="608" y="469">D16</text>
<use href="#dv" x="566" y="488"/><use href="#dv" x="584" y="488"/><use href="#dv" x="600" y="488"/>
<use href="#dv" x="566" y="522"/><use href="#dv" x="584" y="522"/><use href="#dv" x="600" y="522"/>
<text class="l" x="557" y="549">D11</text><text class="l" x="583" y="549">D10</text><text class="l" x="607" y="549">D9</text>
<use href="#dh" x="522" y="490"/><text class="l" x="520" y="482">D19</text>
<use href="#dh" x="522" y="527"/><text class="l" x="520" y="517">D12</text>
<use href="#po" x="623" y="506"/><use href="#po" x="623" y="522"/><use href="#po" x="623" y="538"/><use href="#po" x="623" y="555"/><use href="#po" x="623" y="572"/>
<use href="#po" x="504" y="564"/><use href="#po" x="521" y="564"/><use href="#po" x="537" y="564"/><use href="#pos" x="554" y="564"/>
<use href="#po" x="504" y="610"/><use href="#po" x="521" y="610"/><use href="#po" x="537" y="610"/><use href="#pos" x="554" y="610"/>

<use href="#v" x="234" y="208"/><use href="#v" x="234" y="229"/><use href="#v" x="291" y="212"/><use href="#v" x="287" y="236"/>
<use href="#v" x="500" y="206"/><use href="#v" x="622" y="210"/><use href="#v" x="699" y="232"/><use href="#v" x="756" y="213"/>
<use href="#v" x="777" y="262"/><use href="#v" x="797" y="262"/><use href="#v" x="778" y="540"/><use href="#v" x="622" y="395"/>
<use href="#v" x="577" y="330"/><use href="#v" x="589" y="408"/><use href="#v" x="604" y="390"/><use href="#v" x="613" y="494"/>
<use href="#v" x="520" y="640"/><use href="#v" x="470" y="640"/><use href="#v" x="415" y="640"/><use href="#v" x="381" y="590"/>
<use href="#v" x="484" y="566"/><use href="#v" x="340" y="548"/><use href="#v" x="289" y="525"/><use href="#v" x="286" y="440"/>
<use href="#v" x="325" y="378"/><use href="#v" x="402" y="343"/><use href="#v" x="450" y="378"/><use href="#v" x="490" y="406"/>
<use href="#v" x="405" y="330"/><use href="#v" x="444" y="333"/><use href="#v" x="396" y="305"/><use href="#v" x="163" y="555"/>
<use href="#v" x="200" y="475"/><use href="#v" x="232" y="602"/><use href="#v" x="97" y="760"/><use href="#v" x="98" y="783"/>
<use href="#v" x="160" y="650"/><use href="#v" x="230" y="650"/><use href="#v" x="296" y="652"/><use href="#v" x="248" y="663"/>
<use href="#v" x="390" y="660"/><use href="#v" x="410" y="700"/><use href="#v" x="540" y="700"/><use href="#v" x="577" y="720"/>
<use href="#v" x="728" y="700"/><use href="#v" x="780" y="650"/><use href="#v" x="773" y="400"/><use href="#v" x="780" y="303"/>
<use href="#v" x="164" y="357"/><use href="#v" x="165" y="376"/><use href="#v" x="168" y="398"/><use href="#v" x="169" y="472"/>
</svg>
</body></html>
